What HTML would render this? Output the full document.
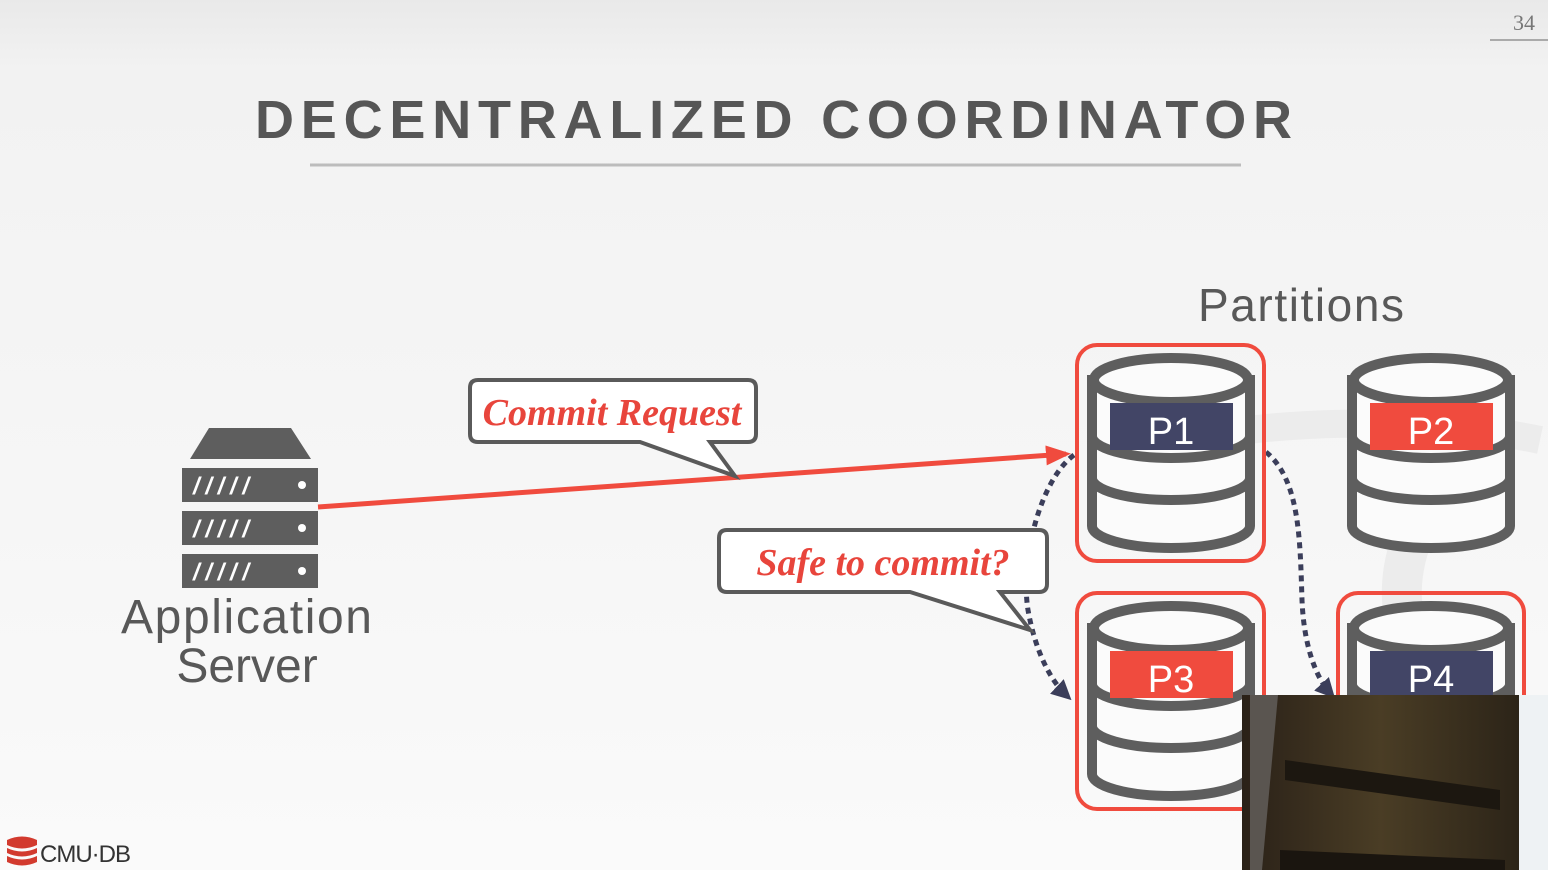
<!DOCTYPE html>
<html><head><meta charset="utf-8"><style>
html,body{margin:0;padding:0}
body{width:1548px;height:870px;overflow:hidden;background:linear-gradient(#e9e9e9 0px,#f2f2f2 70px,#f5f5f5 400px,#fafafa 870px);position:relative}
svg{position:absolute;left:0;top:0}
</style></head><body>
<svg width="1548" height="870" viewBox="0 0 1548 870" xmlns="http://www.w3.org/2000/svg">
<defs>
<g id="cyl" stroke="#5e5e5e" stroke-width="10" fill="#fbfbfb">
  <path d="M-79,98 V146 A79 22 0 0 0 79 146 V98 Z"/>
  <path d="M-79,56 V98 A79 22 0 0 0 79 98 V56 Z"/>
  <path d="M-79,0 V56 A79 22 0 0 0 79 56 V0 Z"/>
  <ellipse cx="0" cy="0" rx="77" ry="22"/>
</g>
<marker id="ar" markerWidth="5" markerHeight="4" refX="4" refY="2" orient="auto" markerUnits="strokeWidth"><path d="M0,0 L5,2 L0,4 Z" fill="#f04b3e"/></marker>
<marker id="ad" markerWidth="4" markerHeight="4" refX="2.5" refY="2" orient="auto" markerUnits="strokeWidth"><path d="M0,0 L4,2 L0,4 Z" fill="#3b3e5a"/></marker>
</defs>

<!-- faint watermark -->
<path d="M1110,480 C1150,420 1400,410 1540,440" stroke="#ececec" stroke-width="28" fill="none"/>
<path d="M1420,520 C1380,600 1400,700 1540,720" stroke="#ececec" stroke-width="40" fill="none"/>

<text x="1524" y="30" font-family="Liberation Serif,serif" font-size="22" fill="#777" text-anchor="middle">34</text>
<line x1="1490" y1="40" x2="1548" y2="40" stroke="#aaa" stroke-width="2"/>

<text x="255" y="138" font-family="Liberation Sans,sans-serif" font-size="54" font-weight="bold" fill="#565656" textLength="1037" lengthAdjust="spacing">DECENTRALIZED COORDINATOR</text>
<line x1="310" y1="165" x2="1241" y2="165" stroke="#bcbcbc" stroke-width="3"/>

<g fill="#5e5e5e">
<path d="M209,428 H291 L311,459 H190 Z"/>
<rect x="182" y="468" width="136" height="34"/>
<rect x="182" y="511" width="136" height="34"/>
<rect x="182" y="554" width="136" height="34"/>
</g>
<g fill="#fff">
<circle cx="302" cy="485" r="4"/><circle cx="302" cy="528" r="4"/><circle cx="302" cy="571" r="4"/>
<text x="193" y="494" font-family="Liberation Sans,sans-serif" font-size="24" font-weight="bold" font-style="italic" textLength="56">/////</text>
<text x="193" y="537" font-family="Liberation Sans,sans-serif" font-size="24" font-weight="bold" font-style="italic" textLength="56">/////</text>
<text x="193" y="580" font-family="Liberation Sans,sans-serif" font-size="24" font-weight="bold" font-style="italic" textLength="56">/////</text>
</g>
<text x="121" y="633" font-family="Liberation Sans,sans-serif" font-size="48" fill="#585858" textLength="251">Application</text>
<text x="247" y="682" font-family="Liberation Sans,sans-serif" font-size="48" fill="#585858" text-anchor="middle">Server</text>

<text x="1198" y="321" font-family="Liberation Sans,sans-serif" font-size="46" fill="#585858" textLength="206">Partitions</text>

<line x1="318" y1="507" x2="1066" y2="454" stroke="#f04b3e" stroke-width="5" marker-end="url(#ar)"/>

<path d="M1074,455 C1040,480 1020,560 1028,610 C1035,650 1050,680 1066,695" stroke="#3b3e5a" stroke-width="5" stroke-dasharray="6 5" fill="none" marker-end="url(#ad)"/>
<path d="M1266,452 C1300,480 1300,540 1302,600 C1304,650 1318,680 1330,693" stroke="#3b3e5a" stroke-width="5" stroke-dasharray="6 5" fill="none" marker-end="url(#ad)"/>

<path d="M478,380 H748 Q756,380 756,388 V434 Q756,442 748,442 H710 L735,476 L640,442 H478 Q470,442 470,434 V388 Q470,380 478,380 Z" fill="#fff" stroke="#5a5a5a" stroke-width="4"/>
<text x="612" y="425" font-family="Liberation Serif,serif" font-size="38" font-weight="bold" font-style="italic" fill="#e8453c" text-anchor="middle">Commit Request</text>
<path d="M727,530 H1039 Q1047,530 1047,538 V584 Q1047,592 1039,592 H1000 L1030,630 L910,592 H727 Q719,592 719,584 V538 Q719,530 727,530 Z" fill="#fff" stroke="#5a5a5a" stroke-width="4"/>
<text x="883" y="575" font-family="Liberation Serif,serif" font-size="38" font-weight="bold" font-style="italic" fill="#e8453c" text-anchor="middle">Safe to commit?</text>

<rect x="1077" y="345" width="187" height="216" rx="20" fill="none" stroke="#f04b3e" stroke-width="4"/>
<rect x="1077" y="593" width="187" height="216" rx="20" fill="none" stroke="#f04b3e" stroke-width="4"/>
<rect x="1338" y="593" width="186" height="216" rx="20" fill="none" stroke="#f04b3e" stroke-width="4"/>

<use href="#cyl" transform="translate(1171,380)"/>
<use href="#cyl" transform="translate(1431,380)"/>
<use href="#cyl" transform="translate(1171,628)"/>
<use href="#cyl" transform="translate(1431,628)"/>

<rect x="1110" y="403" width="123" height="47" fill="#424566"/>
<text x="1171" y="444" font-family="Liberation Sans,sans-serif" font-size="38" fill="#fff" text-anchor="middle">P1</text>
<rect x="1370" y="403" width="123" height="47" fill="#f04b3e"/>
<text x="1431" y="444" font-family="Liberation Sans,sans-serif" font-size="38" fill="#fff" text-anchor="middle">P2</text>
<rect x="1110" y="651" width="123" height="47" fill="#f04b3e"/>
<text x="1171" y="692" font-family="Liberation Sans,sans-serif" font-size="38" fill="#fff" text-anchor="middle">P3</text>
<rect x="1370" y="651" width="123" height="47" fill="#424566"/>
<text x="1431" y="692" font-family="Liberation Sans,sans-serif" font-size="38" fill="#fff" text-anchor="middle">P4</text>

<rect x="1519" y="695" width="29" height="175" fill="#eef2f4"/>
<defs><linearGradient id="vg" x1="0" y1="0" x2="1" y2="0"><stop offset="0" stop-color="#2a2118"/><stop offset="0.5" stop-color="#4a3d25"/><stop offset="1" stop-color="#2c2418"/></linearGradient></defs>
<rect x="1242" y="695" width="277" height="175" fill="url(#vg)"/>
<path d="M1250,695 L1278,695 L1262,870 L1250,870 Z" fill="#5a5550"/>
<path d="M1285,760 L1500,790 L1500,810 L1285,780 Z" fill="#1c1710"/>
<path d="M1280,850 L1505,860 L1505,870 L1280,870 Z" fill="#1a150f"/>

<g fill="#d23a2e">
<path d="M7,840 Q22,833 37,840 V845 Q22,852 7,845 Z"/>
<path d="M7,848 Q22,855 37,848 V853 Q22,860 7,853 Z"/>
<path d="M7,856 Q22,863 37,856 V862 Q22,869 7,862 Z"/>
</g>
<text x="40" y="862" font-family="Liberation Sans,sans-serif" font-size="24" fill="#333" letter-spacing="-1">CMU·DB</text>
</svg>
</body></html>
